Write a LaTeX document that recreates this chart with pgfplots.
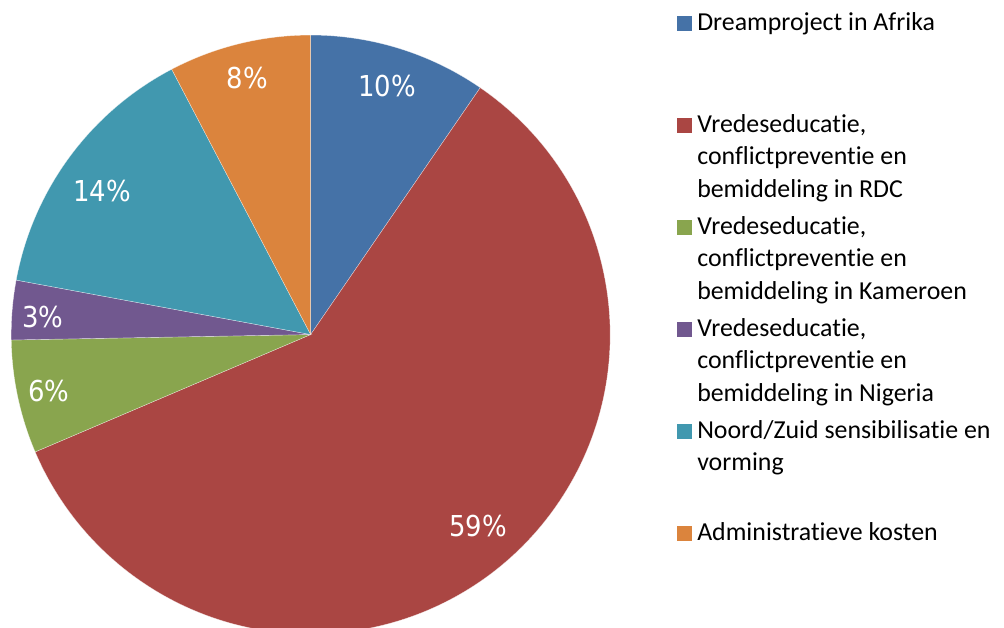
\documentclass[border=0pt]{standalone}
\usepackage{pgfplots}
\pgfplotsset{compat=1.18}
\usepackage{pgfplotstable}
\usepackage{fontspec}
\setmainfont{Carlito}[RawFeature={-liga;-clig;-calt;-dlig}]
\newfontfamily\labelfont{DejaVu Sans Condensed}
\definecolor{cA}{HTML}{4572A7}
\definecolor{cB}{HTML}{AA4643}
\definecolor{cC}{HTML}{89A54E}
\definecolor{cD}{HTML}{71588F}
\definecolor{cE}{HTML}{4198AF}
\definecolor{cF}{HTML}{DB843D}

\pgfplotstableread{
value label
9.58 10
59.01 59
6.12 6
3.20 3
14.41 14
7.68 8
}\piedata

\newcommand\legfont{\fontsize{19.4}{24.4}\selectfont}
\newcommand\pielab{\labelfont\fontsize{21.6}{26}\selectfont}

\begin{document}
\begin{tikzpicture}
\path[use as bounding box] (0,0) rectangle (753pt,-471pt);
% cumulative shares
\pgfplotstablegetelem{0}{value}\of\piedata \pgfmathsetmacro\ca{\pgfplotsretval}
\pgfplotstablegetelem{1}{value}\of\piedata \pgfmathsetmacro\cb{\ca+\pgfplotsretval}
\pgfplotstablegetelem{2}{value}\of\piedata \pgfmathsetmacro\cc{\cb+\pgfplotsretval}
\pgfplotstablegetelem{3}{value}\of\piedata \pgfmathsetmacro\cd{\cc+\pgfplotsretval}
\pgfplotstablegetelem{4}{value}\of\piedata \pgfmathsetmacro\ce{\cd+\pgfplotsretval}
\pgfplotstablegetelem{5}{value}\of\piedata \pgfmathsetmacro\cf{\ce+\pgfplotsretval}
\pgfmathsetmacro\Aa{90-3.6*\ca}
\pgfmathsetmacro\Ab{90-3.6*\cb}
\pgfmathsetmacro\Ac{90-3.6*\cc}
\pgfmathsetmacro\Ad{90-3.6*\cd}
\pgfmathsetmacro\Ae{90-3.6*\ce}
\pgfmathsetmacro\Af{90-3.6*\cf}
\begin{axis}[hide axis, x=224.6pt, y=224.6pt,
  xmin=-1, xmax=1, ymin=-1, ymax=1,
  anchor=origin, at={(233.0pt,-250.9pt)}, clip=false]
\tikzset{slice/.style={draw=white, draw opacity=0.6, line width=0.3pt}}
\filldraw[slice, fill=cA] (axis cs:0,0) -- (axis cs:{cos(90)},{sin(90)}) arc[start angle=90, end angle=\Aa, radius=224.6pt] -- cycle;
\filldraw[slice, fill=cB] (axis cs:0,0) -- (axis cs:{cos(\Aa)},{sin(\Aa)}) arc[start angle=\Aa, end angle=\Ab, radius=224.6pt] -- cycle;
\filldraw[slice, fill=cC] (axis cs:0,0) -- (axis cs:{cos(\Ab)},{sin(\Ab)}) arc[start angle=\Ab, end angle=\Ac, radius=224.6pt] -- cycle;
\filldraw[slice, fill=cD] (axis cs:0,0) -- (axis cs:{cos(\Ac)},{sin(\Ac)}) arc[start angle=\Ac, end angle=\Ad, radius=224.6pt] -- cycle;
\filldraw[slice, fill=cE] (axis cs:0,0) -- (axis cs:{cos(\Ad)},{sin(\Ad)}) arc[start angle=\Ad, end angle=\Ae, radius=224.6pt] -- cycle;
\filldraw[slice, fill=cF] (axis cs:0,0) -- (axis cs:{cos(\Ae)},{sin(\Ae)}) arc[start angle=\Ae, end angle=\Af, radius=224.6pt] -- cycle;
\node[white, inner sep=0pt, font=\pielab] at (axis cs:0.255,0.830) {10\%};
\node[white, inner sep=0pt, font=\pielab] at (axis cs:0.559,-0.639) {59\%};
\node[white, inner sep=0pt, font=\pielab] at (axis cs:-0.874,-0.187) {6\%};
\node[white, inner sep=0pt, font=\pielab] at (axis cs:-0.894,0.058) {3\%};
\node[white, inner sep=0pt, font=\pielab] at (axis cs:-0.697,0.479) {14\%};
\node[white, inner sep=0pt, font=\pielab] at (axis cs:-0.211,0.858) {8\%};
\end{axis}
\begin{scope}[x=0.75pt, y=-0.75pt]
\tikzset{lt/.style={anchor=base west, inner sep=0pt, font=\legfont}}
\fill[cA] (677,16) rectangle (692,31);
\node[lt] at (697,31) {Dreamproject in Afrika};
\fill[cB] (677,118) rectangle (692,133);
\node[lt] at (697,132) {Vredeseducatie,};
\node[lt] at (697,164.5) {conflictpreventie en};
\node[lt] at (697,197) {bemiddeling in RDC};
\fill[cC] (677,220) rectangle (692,235);
\node[lt] at (697,234) {Vredeseducatie,};
\node[lt] at (697,266.5) {conflictpreventie en};
\node[lt] at (697,299) {bemiddeling in Kameroen};
\fill[cD] (677,322) rectangle (692,337);
\node[lt] at (697,336) {Vredeseducatie,};
\node[lt] at (697,368.5) {conflictpreventie en};
\node[lt] at (697,401) {bemiddeling in Nigeria};
\fill[cE] (677,424) rectangle (692,439);
\node[lt] at (697,438) {Noord/Zuid sensibilisatie en};
\node[lt] at (697,470.5) {vorming};
\fill[cF] (677,526) rectangle (692,541);
\node[lt] at (697,540) {Administratieve kosten};
\end{scope}
\end{tikzpicture}
\end{document}
